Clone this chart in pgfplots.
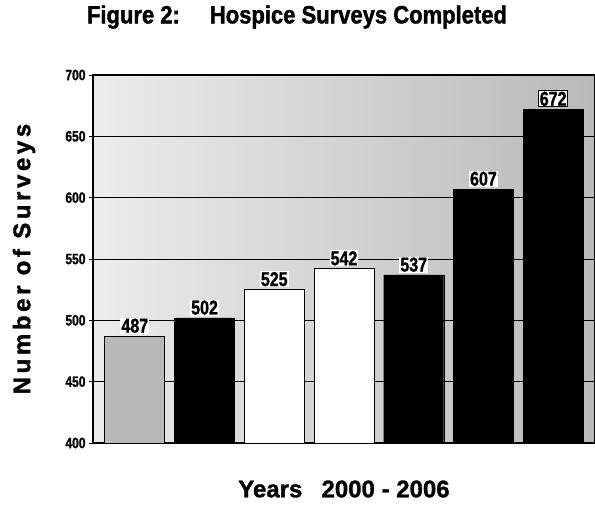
\documentclass[border=0pt]{standalone}
\usepackage{fontspec}
\setmainfont{Liberation Sans}
\newfontfamily\cond{Liberation Sans}[UprightFont=* Bold, FakeStretch=0.8, FakeBold=1.2]
\newfontfamily\heavy{Liberation Sans}[UprightFont=* Bold, FakeStretch=0.88, FakeBold=1.5]
\newfontfamily\heavyw{Liberation Sans}[UprightFont=* Bold, FakeBold=1.3]
\newfontfamily\heavys{Liberation Sans}[UprightFont=* Bold, FakeBold=1.5, LetterSpace=15]
\usepackage{pgfplots}
\pgfplotsset{compat=1.18}
\begin{document}
\begin{tikzpicture}
\begin{axis}[
 scale only axis, width=502pt, height=368pt,
 xmin=-0.6, xmax=6.6, ymin=400, ymax=700,
 ytick={400,450,...,700},
 xtick=\empty,
 ymajorgrids, grid style={black, line width=0.9pt},
 axis line style={line width=1.1pt},
 tick align=outside, major tick length=4pt, ytick pos=left,
 tick style={black, line width=0.9pt},
 /pgf/number format/assume math mode=true,
 yticklabel style={font=\cond\fontsize{15}{15}\selectfont},
 ybar, bar width=0.86,
 axis background/.style={left color=gray!15, right color=gray!55},
 nodes near coords,
 nodes near coords style={font=\cond\fontsize{20}{20}\selectfont, fill=white, inner sep=1pt, yshift=2pt},
 title={Figure 2:\hspace{1.2em}Hospice Surveys Completed},
 title style={font=\heavy\fontsize{25}{27}\selectfont, at={(axis description cs:0.5,1)}, anchor=center, xshift=-47pt, yshift=52pt},
 xlabel={Years\hspace{0.8em}2000 - 2006},
 xlabel style={font=\heavyw\fontsize{24}{26}\selectfont, at={(axis description cs:0.5,0)}, anchor=center, yshift=-46pt},
 ylabel={Number of Surveys},
 ylabel style={font=\heavys\fontsize{24}{26}\selectfont, at={(axis description cs:0,0.5)}, anchor=center, yshift=69pt},
]
\addplot[bar shift=0pt, fill=gray!55, draw=black, line width=0.9pt] coordinates {(0,487)};
\addplot[bar shift=0pt, fill=black, draw=black] coordinates {(1,502) (4,537) (5,607)};
\addplot[bar shift=0pt, fill=white, draw=black, line width=0.9pt] coordinates {(2,525) (3,542)};
\addplot[bar shift=0pt, fill=black, draw=black, nodes near coords style={draw=black, line width=0.9pt}] coordinates {(6,672)};
\end{axis}
\path (current axis.south west) ++(-93pt,-63pt) coordinate (a);
\path (current axis.north east) ++(0pt,75pt) coordinate (b);
\pgfresetboundingbox
\path (a) rectangle (b);
\end{tikzpicture}
\end{document}
